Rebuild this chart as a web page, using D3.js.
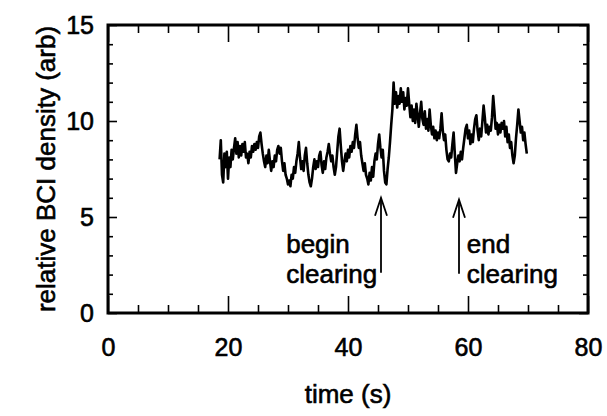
<!DOCTYPE html>
<html>
<head>
<meta charset="utf-8">
<script src="https://cdn.jsdelivr.net/npm/d3@7"></script>
<style>
  html, body { margin: 0; padding: 0; background: #fff; }
  svg { display: block; }
  text { font-family: "Liberation Sans", Arial, Helvetica, sans-serif; fill: #000; stroke: #000; stroke-width: 0.6px; }
</style>
</head>
<body>
<svg id="chart" width="607" height="416"></svg>
<script>
// BCI density trace, sampled every 0.2 s starting at 18.6 s
const sampleStart = 18.6;
const sampleStep = 0.2;
const density = [
  8.0, 9.0, 7.2, 6.8, 8.3, 7.6, 8.4, 7.0, 8.1, 7.6, 8.5, 8.0,
  8.6, 9.1, 8.3, 8.9, 8.1, 8.7, 8.2, 8.8, 8.4, 8.9,
  8.1, 8.3, 7.8, 8.4, 8.1, 8.7, 8.4, 8.8, 8.5, 8.9,
  8.6, 9.2, 9.4, 8.8, 8.3, 7.9, 7.6, 8.2, 7.8, 8.5,
  7.9, 7.4, 7.9, 7.6, 8.2, 7.9, 8.5, 8.7, 8.3, 8.6,
  7.9, 7.4, 7.8, 7.2, 7.0, 6.7, 6.9, 6.6, 7.2, 7.0,
  7.6, 7.3, 7.9, 8.3, 8.9, 8.1, 7.5, 7.9, 7.4, 8.2,
  8.6, 7.8, 7.2, 6.8, 6.6, 7.0, 7.6, 8.0, 7.5, 7.9,
  7.6, 8.2, 8.4, 7.7, 7.3, 7.9, 7.5, 8.1, 8.4, 8.8,
  8.3, 7.9, 8.2, 7.6, 7.2, 7.6, 8.4, 9.2, 9.6, 8.7,
  7.9, 7.4, 7.9, 8.3, 7.9, 8.5, 8.1, 8.7, 8.4, 8.9,
  8.6, 9.3, 9.8, 9.1, 8.6, 8.9, 8.2, 7.8, 7.4, 7.8,
  7.2, 7.0, 6.7, 7.3, 6.9, 7.6, 7.1, 7.9, 8.3, 8.0,
  8.8, 9.3, 8.6, 8.1, 8.5, 7.4, 6.8, 6.7, 7.5, 8.1,
  8.9, 9.8, 10.6, 12.0, 10.9, 11.5, 10.7, 11.3, 10.9, 11.7,
  11.0, 11.5, 10.6, 11.2, 10.8, 11.7, 10.9, 10.2, 10.8, 10.0,
  10.6, 9.9, 10.9, 10.3, 9.7, 10.4, 11.0, 10.1, 9.8, 10.5,
  9.6, 10.1, 9.5, 10.6, 9.8, 9.3, 9.7, 9.1, 9.5, 9.0,
  9.4, 9.1, 9.6, 10.4, 9.5, 9.0, 9.3, 8.5, 8.0, 7.9,
  8.3, 8.1, 8.8, 9.4, 8.3, 7.3, 7.8, 8.2, 7.9, 8.4,
  8.0, 8.6, 9.1, 9.6, 9.8, 9.1, 9.5, 8.8, 9.3, 8.9,
  9.6, 10.1, 10.3, 9.5, 9.0, 9.6, 9.2, 10.0, 10.8, 10.2,
  9.4, 9.8, 9.3, 9.7, 9.5, 10.2, 11.3, 10.5, 9.6, 9.9,
  9.3, 9.8, 9.4, 9.9, 9.6, 10.0, 9.2, 9.7, 8.9, 9.3,
  8.6, 8.9, 8.2, 7.8, 8.2, 9.1, 9.8, 10.6, 10.0, 9.4,
  9.7, 9.0, 9.4, 8.8, 8.3
];

// Axis settings
const xDomain = [0, 80];
const yDomain = [0, 15];
const xMajorTicks = [0, 20, 40, 60, 80];
const yMajorTicks = [0, 5, 10, 15];
const xMinorStep = 5;
const yMinorStep = 1;
const xTitle = "time (s)";
const yTitle = "relative BCI density (arb)";

// Arrow annotations: arrow time, tip/tail levels, text lines and where they sit
const arrowTimes = [45.5, 58.5];
const arrowTips = [6.0, 5.9];
const arrowTails = [2.1, 2.05];
const arrowLabels = [["begin", "clearing"], ["end", "clearing"]];
const labelTimes = [29.7, 59.8];
const labelLevels = [3.15, 1.55];

const svg = d3.select("#chart");
const margin = { left: 108, top: 25, right: 19, bottom: 103 };
const W = 607 - margin.left - margin.right;
const H = 416 - margin.top - margin.bottom;

const x = d3.scaleLinear().domain(xDomain).range([0, W]);
const y = d3.scaleLinear().domain(yDomain).range([H, 0]);

const g = svg.append("g").attr("transform", `translate(${margin.left},${margin.top})`);

const xMinor = d3.range(xDomain[0], xDomain[1] + 0.001, xMinorStep).filter(v => !xMajorTicks.includes(v));
const yMinor = d3.range(yDomain[0], yDomain[1] + 0.001, yMinorStep).filter(v => !yMajorTicks.includes(v));

// Inward ticks on all four sides, drawn with d3 axes
function tickAxis(axisFn, scale, values, size) {
  return axisFn(scale).tickValues(values).tickSize(size).tickFormat("");
}
const tickStyle = sel => {
  sel.select(".domain").remove();
  sel.selectAll("line").attr("stroke", "#000").attr("stroke-width", 1.6);
};

g.append("g").attr("transform", `translate(0,${H})`).call(tickAxis(d3.axisTop, x, xMajorTicks, 17)).call(tickStyle);
g.append("g").attr("transform", `translate(0,${H})`).call(tickAxis(d3.axisTop, x, xMinor, 8)).call(tickStyle);
g.append("g").call(tickAxis(d3.axisBottom, x, xMajorTicks, 17)).call(tickStyle);
g.append("g").call(tickAxis(d3.axisBottom, x, xMinor, 8)).call(tickStyle);
g.append("g").call(tickAxis(d3.axisRight, y, yMajorTicks, 9)).call(tickStyle);
g.append("g").call(tickAxis(d3.axisRight, y, yMinor, 5)).call(tickStyle);
g.append("g").attr("transform", `translate(${W},0)`).call(tickAxis(d3.axisLeft, y, yMajorTicks, 9)).call(tickStyle);
g.append("g").attr("transform", `translate(${W},0)`).call(tickAxis(d3.axisLeft, y, yMinor, 5)).call(tickStyle);

// Tick labels
const xLab = d3.axisBottom(x).tickValues(xMajorTicks).tickSize(0).tickPadding(25).tickFormat(d3.format("d"));
g.append("g").attr("transform", `translate(0,${H})`).call(xLab)
  .call(s => { s.select(".domain").remove(); s.selectAll("text").attr("font-size", 25).attr("font-family", null); });
const yLab = d3.axisLeft(y).tickValues(yMajorTicks).tickSize(0).tickPadding(14).tickFormat(d3.format("d"));
g.append("g").call(yLab)
  .call(s => { s.select(".domain").remove(); s.selectAll("text").attr("font-size", 25).attr("font-family", null); });

// Trace
const line = d3.line()
  .x((d, i) => x(sampleStart + i * sampleStep))
  .y(d => y(d));
g.append("path")
  .datum(density)
  .attr("fill", "none")
  .attr("stroke", "#000")
  .attr("stroke-width", 2.6)
  .attr("stroke-linejoin", "round")
  .attr("d", line);

// Arrows with open heads
arrowTimes.forEach((t, i) => {
  const ax = x(t), tipY = y(arrowTips[i]), tailY = y(arrowTails[i]);
  g.append("line").attr("x1", ax).attr("x2", ax).attr("y1", tipY).attr("y2", tailY)
    .attr("stroke", "#000").attr("stroke-width", 1.8);
  g.append("path")
    .attr("d", `M${ax - 6},${tipY + 18}L${ax},${tipY}L${ax + 6},${tipY + 18}`)
    .attr("fill", "none").attr("stroke", "#000").attr("stroke-width", 1.8);
  arrowLabels[i].forEach((txt, j) => {
    g.append("text")
      .attr("x", x(labelTimes[i]))
      .attr("y", y(labelLevels[j]))
      .attr("font-size", 26)
      .text(txt);
  });
});

// Frame
g.append("rect").attr("width", W).attr("height", H)
  .attr("fill", "none").attr("stroke", "#000").attr("stroke-width", 3);

// Axis titles
svg.append("text")
  .attr("x", margin.left + W / 2).attr("y", 403)
  .attr("text-anchor", "middle").attr("font-size", 26)
  .text(xTitle);
svg.append("text")
  .attr("transform", `translate(55,${margin.top + H / 2}) rotate(-90)`)
  .attr("text-anchor", "middle").attr("font-size", 26)
  .text(yTitle);
</script>
</body>
</html>
